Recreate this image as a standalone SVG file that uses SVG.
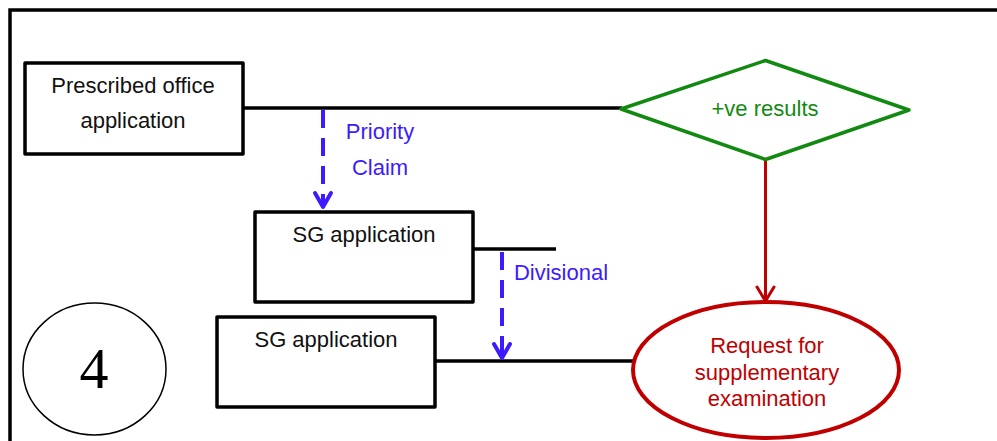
<svg xmlns="http://www.w3.org/2000/svg" width="997" height="441" viewBox="0 0 997 441">
<style>
.box{fill:#fff;stroke:#000;stroke-width:3.5;stroke-linejoin:round}
.t{font-family:"Liberation Sans",Arial,sans-serif;font-size:22px;text-anchor:middle}
.blk{fill:#111}
.blue{fill:#3d1aff}
.grn{fill:#128a12}
.red{fill:#c00000}
.ln{stroke:#000;stroke-width:3.5;fill:none}
.dash{stroke:#3d1aff;stroke-width:4;stroke-dasharray:18 10;fill:none}
.ah{stroke:#3d1aff;stroke-width:4;fill:none;stroke-linecap:round;stroke-linejoin:round}
</style>
<rect width="997" height="441" fill="#fff"/>
<path d="M10,441 V10 H997" fill="none" stroke="#000" stroke-width="3.5"/>
<g id="connectors">
<path class="ln" d="M243,108 H622"/>
<path class="ln" d="M473,249 H556"/>
<path class="ln" d="M435,361 H634"/>
<path class="dash" d="M323,110 V204"/>
<path class="ah" d="M315,193 L323,207 L331,193"/>
<path class="dash" d="M502,252 V355"/>
<path class="ah" d="M494,344 L502,358 L510,344"/>
<path d="M765.5,160 V300" stroke="#c00000" stroke-width="3" fill="none"/>
<path d="M757,287 L765.5,301 L774,287" stroke="#c00000" stroke-width="3" fill="none" stroke-linecap="round" stroke-linejoin="round"/>
<text class="t blue" x="380" y="139">Priority</text>
<text class="t blue" x="380" y="175">Claim</text>
<text class="t blue" x="561" y="280">Divisional</text>
</g>
<g id="n-prescribed">
<rect class="box" x="25" y="63" width="218" height="91"/>
<text class="t blk" x="133" y="93">Prescribed office</text>
<text class="t blk" x="133" y="128">application</text>
</g>
<g id="n-results">
<polygon points="621,109 765.5,60.5 909,110 765.5,159.5" fill="#fff" stroke="#128a12" stroke-width="3.5" stroke-linejoin="round"/>
<text class="t grn" x="765" y="116">+ve results</text>
</g>
<g id="n-sg1">
<rect class="box" x="255" y="212" width="218" height="90"/>
<text class="t blk" x="364" y="242">SG application</text>
</g>
<g id="n-sg2">
<rect class="box" x="217" y="317" width="218" height="90"/>
<text class="t blk" x="326" y="347">SG application</text>
</g>
<g id="n-request">
<ellipse cx="766" cy="370" rx="133" ry="68" fill="#fff" stroke="#c00000" stroke-width="4"/>
<text class="t red" x="767" y="353">Request for</text>
<text class="t red" x="767" y="380">supplementary</text>
<text class="t red" x="767" y="406">examination</text>
</g>
<g id="n-four">
<ellipse cx="94.5" cy="369" rx="71.5" ry="66" fill="#fff" stroke="#000" stroke-width="1.5"/>
<text x="94" y="388" font-family="'Liberation Serif','Times New Roman',serif" font-size="58" text-anchor="middle" fill="#000">4</text>
</g>
</svg>
